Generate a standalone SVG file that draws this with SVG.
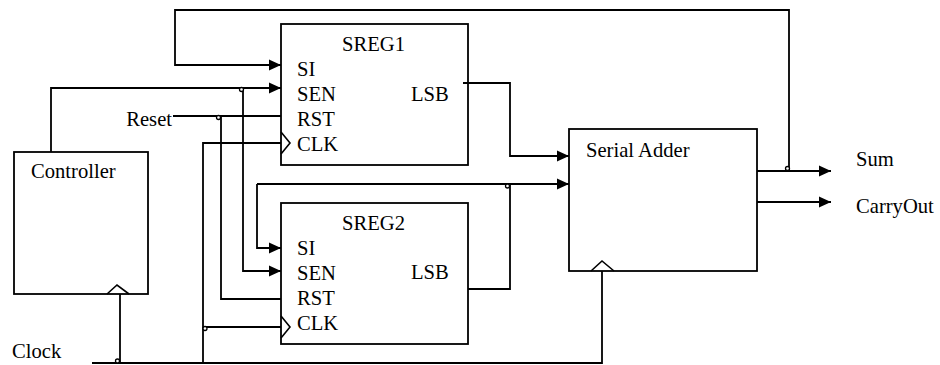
<svg xmlns="http://www.w3.org/2000/svg" width="940" height="365" viewBox="0 0 940 365">
<style>
.box{fill:#fff;stroke:#000;stroke-width:1.8}
.w{fill:none;stroke:#000;stroke-width:1.8}
.clk{fill:none;stroke:#000;stroke-width:1.6}
.j{fill:#fff;stroke:#000;stroke-width:1.3}
text{font-family:"Liberation Serif","Times New Roman",serif;font-size:20.6px;fill:#000}
</style>
<defs>
<marker id="ar" markerUnits="userSpaceOnUse" markerWidth="13" markerHeight="12" refX="12" refY="6" orient="auto">
<path d="M0,0.5 L12,6 L0,11.5 z" fill="#000"/>
</marker>
</defs>
<rect width="940" height="365" fill="#fff"/>
<g id="controller">
<rect class="box" x="14" y="152" width="134" height="142"/>
<polyline class="clk" points="107,294 117,285 129,294"/>
<text x="31" y="178">Controller</text>
</g>
<g id="sreg1">
<rect class="box" x="281" y="24" width="187" height="141"/>
<polyline class="clk" points="281,132 290,143 281,154"/>
<text x="373.5" y="51" text-anchor="middle">SREG1</text>
<text x="297" y="76">SI</text>
<text x="297" y="101">SEN</text>
<text x="297" y="126">RST</text>
<text x="297" y="151">CLK</text>
<text x="411" y="101">LSB</text>
</g>
<g id="sreg2">
<rect class="box" x="281" y="203" width="187" height="141"/>
<polyline class="clk" points="281,316 290,327 281,338"/>
<text x="373.5" y="230" text-anchor="middle">SREG2</text>
<text x="297" y="255">SI</text>
<text x="297" y="280">SEN</text>
<text x="297" y="305">RST</text>
<text x="297" y="330">CLK</text>
<text x="411" y="279">LSB</text>
</g>
<g id="serial-adder">
<rect class="box" x="569" y="129" width="188" height="142"/>
<polyline class="clk" points="591,271 602,261 614,271"/>
<text x="586" y="157">Serial Adder</text>
</g>
<g id="labels">
<text x="172" y="126" text-anchor="end">Reset</text>
<text x="12" y="358">Clock</text>
<text x="856" y="166">Sum</text>
<text x="856" y="213">CarryOut</text>
</g>
<g id="connectors">
<polyline class="w" points="789,171 789,10 175,10 175,65 281,65" marker-end="url(#ar)"/>
<polyline class="w" points="51,152 51,88 281,88" marker-end="url(#ar)"/>
<polyline class="w" points="243,88 243,271 281,271" marker-end="url(#ar)"/>
<polyline class="w" points="173,116 281,116"/>
<polyline class="w" points="221,116 221,299 281,299"/>
<polyline class="w" points="281,143 203,143 203,363"/>
<polyline class="w" points="203,327 281,327"/>
<polyline class="w" points="92,363 602,363 602,271"/>
<polyline class="w" points="120,294 120,363"/>
<polyline class="w" points="463,83 510,83 510,156 569,156" marker-end="url(#ar)"/>
<polyline class="w" points="468,289 510,289 510,184"/>
<polyline class="w" points="257,184 569,184" marker-end="url(#ar)"/>
<polyline class="w" points="257,184 257,248 281,248" marker-end="url(#ar)"/>
<polyline class="w" points="757,171 831,171" marker-end="url(#ar)"/>
<polyline class="w" points="757,202 831,202" marker-end="url(#ar)"/>
<circle class="j" cx="241.5" cy="89.5" r="2"/>
<circle class="j" cx="218.5" cy="117.5" r="2"/>
<circle class="j" cx="205" cy="328.5" r="2"/>
<circle class="j" cx="117.5" cy="361" r="2"/>
<circle class="j" cx="507.5" cy="186" r="2"/>
<circle class="j" cx="787.5" cy="168.5" r="2"/>
</g>
</svg>
